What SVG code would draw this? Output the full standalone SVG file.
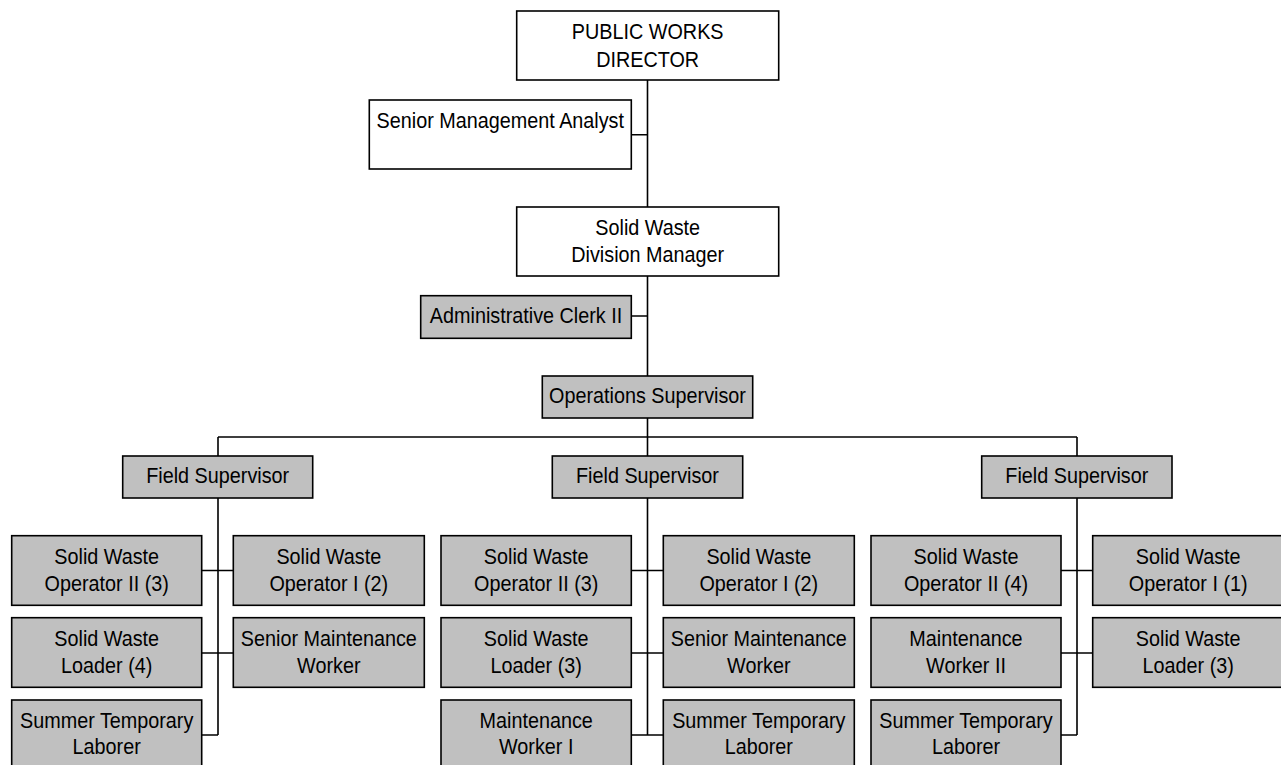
<svg xmlns="http://www.w3.org/2000/svg" width="1281" height="765" viewBox="0 0 1281 765">
<style>
.b{fill:#fff;stroke:#000;stroke-width:1.6}
.g{fill:#c0c0c0;stroke:#000;stroke-width:1.6}
.t{font-family:"Liberation Sans",Arial,sans-serif;font-size:22px;fill:#000;text-anchor:middle}
.c{fill:none;stroke:#000;stroke-width:1.6}
</style>
<rect width="1281" height="765" fill="#fff"/>
<g id="connectors" class="c">
<path d="M647.5 80V207M631.3 134.7H647.5M647.5 276V376M631.3 316H647.5M647.5 418V456M218 437H1077M218 437V456M1077 437V456"/>
<path d="M218 498V735M201.7 570.5H233.3M201.7 653H233.3M201.7 735H218"/>
<path d="M647.5 498V735M631.3 570.5H663.3M631.3 653H663.3M631.3 735H663.3"/>
<path d="M1077 498V735M1061 570.5H1092.7M1061 653H1092.7M1061 735H1077"/>
</g>
<g id="director"><rect class="b" x="516.7" y="11" width="262" height="69"/><text class="t" transform="translate(647.7 0) scale(0.9 1)"><tspan x="0" y="39">PUBLIC WORKS</tspan><tspan x="0" y="67">DIRECTOR</tspan></text></g>
<g id="analyst"><rect class="b" x="369.3" y="100" width="262" height="69"/><text class="t" transform="translate(500.3 0) scale(0.9 1)"><tspan x="0" y="127.7">Senior Management Analyst</tspan></text></g>
<g id="manager"><rect class="b" x="516.7" y="207" width="262" height="69"/><text class="t" transform="translate(647.7 0) scale(0.9 1)"><tspan x="0" y="235">Solid Waste</tspan><tspan x="0" y="262">Division Manager</tspan></text></g>
<g id="clerk"><rect class="g" x="420.7" y="295.7" width="210.6" height="42.6"/><text class="t" transform="translate(526 0) scale(0.9 1)"><tspan x="0" y="323.5">Administrative Clerk II</tspan></text></g>
<g id="ops"><rect class="g" x="542.3" y="376" width="210.4" height="42"/><text class="t" transform="translate(647.5 0) scale(0.9 1)"><tspan x="0" y="403.5">Operations Supervisor</tspan></text></g>
<g id="fs-left"><rect class="g" x="122.7" y="456" width="190" height="42"/><text class="t" transform="translate(217.7 0) scale(0.9 1)"><tspan x="0" y="483.5">Field Supervisor</tspan></text></g>
<g id="fs-mid"><rect class="g" x="552.3" y="456" width="190.4" height="42"/><text class="t" transform="translate(647.5 0) scale(0.9 1)"><tspan x="0" y="483.5">Field Supervisor</tspan></text></g>
<g id="fs-right"><rect class="g" x="981.7" y="456" width="190.3" height="42"/><text class="t" transform="translate(1076.8 0) scale(0.9 1)"><tspan x="0" y="483.5">Field Supervisor</tspan></text></g>

<g id="l-op2"><rect class="g" x="11.7" y="535.7" width="190" height="69.6"/><text class="t" transform="translate(106.7 0) scale(0.9 1)"><tspan x="0" y="564">Solid Waste</tspan><tspan x="0" y="591.5">Operator II (3)</tspan></text></g>
<g id="l-op1"><rect class="g" x="233.3" y="535.7" width="191" height="69.6"/><text class="t" transform="translate(328.8 0) scale(0.9 1)"><tspan x="0" y="564">Solid Waste</tspan><tspan x="0" y="591.5">Operator I (2)</tspan></text></g>
<g id="l-loader"><rect class="g" x="11.7" y="617.7" width="190" height="69.6"/><text class="t" transform="translate(106.7 0) scale(0.9 1)"><tspan x="0" y="646">Solid Waste</tspan><tspan x="0" y="673.5">Loader (4)</tspan></text></g>
<g id="l-smw"><rect class="g" x="233.3" y="617.7" width="191" height="69.6"/><text class="t" transform="translate(328.8 0) scale(0.9 1)"><tspan x="0" y="646">Senior Maintenance</tspan><tspan x="0" y="673.5">Worker</tspan></text></g>
<g id="l-summer"><rect class="g" x="11.7" y="700" width="190" height="72"/><text class="t" transform="translate(106.7 0) scale(0.9 1)"><tspan x="0" y="728.5">Summer Temporary</tspan><tspan x="0" y="754">Laborer</tspan></text></g>

<g id="m-op2"><rect class="g" x="441" y="535.7" width="190.3" height="69.6"/><text class="t" transform="translate(536.2 0) scale(0.9 1)"><tspan x="0" y="564">Solid Waste</tspan><tspan x="0" y="591.5">Operator II (3)</tspan></text></g>
<g id="m-op1"><rect class="g" x="663.3" y="535.7" width="191" height="69.6"/><text class="t" transform="translate(758.8 0) scale(0.9 1)"><tspan x="0" y="564">Solid Waste</tspan><tspan x="0" y="591.5">Operator I (2)</tspan></text></g>
<g id="m-loader"><rect class="g" x="441" y="617.7" width="190.3" height="69.6"/><text class="t" transform="translate(536.2 0) scale(0.9 1)"><tspan x="0" y="646">Solid Waste</tspan><tspan x="0" y="673.5">Loader (3)</tspan></text></g>
<g id="m-smw"><rect class="g" x="663.3" y="617.7" width="191" height="69.6"/><text class="t" transform="translate(758.8 0) scale(0.9 1)"><tspan x="0" y="646">Senior Maintenance</tspan><tspan x="0" y="673.5">Worker</tspan></text></g>
<g id="m-mw1"><rect class="g" x="441" y="700" width="190.3" height="72"/><text class="t" transform="translate(536.2 0) scale(0.9 1)"><tspan x="0" y="728.5">Maintenance</tspan><tspan x="0" y="754">Worker I</tspan></text></g>
<g id="m-summer"><rect class="g" x="663.3" y="700" width="191" height="72"/><text class="t" transform="translate(758.8 0) scale(0.9 1)"><tspan x="0" y="728.5">Summer Temporary</tspan><tspan x="0" y="754">Laborer</tspan></text></g>

<g id="r-op2"><rect class="g" x="871" y="535.7" width="190" height="69.6"/><text class="t" transform="translate(966 0) scale(0.9 1)"><tspan x="0" y="564">Solid Waste</tspan><tspan x="0" y="591.5">Operator II (4)</tspan></text></g>
<g id="r-op1"><rect class="g" x="1092.7" y="535.7" width="191" height="69.6"/><text class="t" transform="translate(1188.2 0) scale(0.9 1)"><tspan x="0" y="564">Solid Waste</tspan><tspan x="0" y="591.5">Operator I (1)</tspan></text></g>
<g id="r-mw2"><rect class="g" x="871" y="617.7" width="190" height="69.6"/><text class="t" transform="translate(966 0) scale(0.9 1)"><tspan x="0" y="646">Maintenance</tspan><tspan x="0" y="673.5">Worker II</tspan></text></g>
<g id="r-loader"><rect class="g" x="1092.7" y="617.7" width="191" height="69.6"/><text class="t" transform="translate(1188.2 0) scale(0.9 1)"><tspan x="0" y="646">Solid Waste</tspan><tspan x="0" y="673.5">Loader (3)</tspan></text></g>
<g id="r-summer"><rect class="g" x="871" y="700" width="190" height="72"/><text class="t" transform="translate(966 0) scale(0.9 1)"><tspan x="0" y="728.5">Summer Temporary</tspan><tspan x="0" y="754">Laborer</tspan></text></g>
</svg>
